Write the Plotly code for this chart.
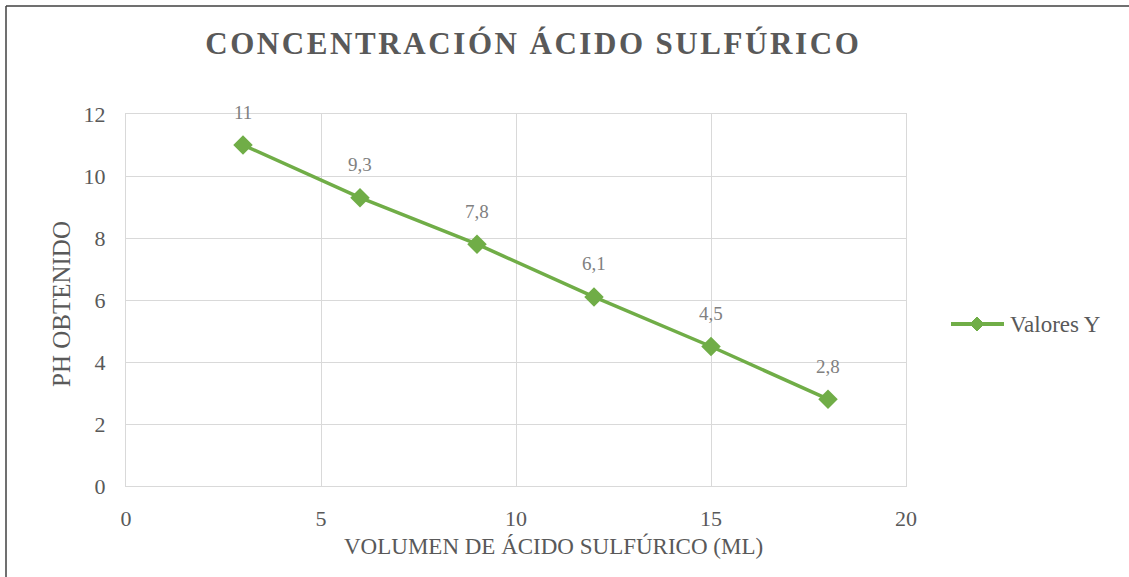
import plotly.graph_objects as go

volumen_ml = [3, 6, 9, 12, 15, 18]
ph_obtenido = [11, 9.3, 7.8, 6.1, 4.5, 2.8]
x_ticks = [0, 5, 10, 15, 20]
y_ticks = [0, 2, 4, 6, 8, 10, 12]
series_name = "Valores Y"

title_text = "CONCENTRACIÓN ÁCIDO SULFÚRICO"
x_title = "VOLUMEN DE ÁCIDO SULFÚRICO (ML)"
y_title = "PH OBTENIDO"
green = "#70ad47"
grid = "#d9d9d9"
txt = "#595959"
font_family = "Liberation Serif, Times New Roman, serif"

# simulate letter spacing for the title
spaced_title = "\u200a".join(list(title_text)).replace("\u200a \u200a", "\u2009\u2009")

W, H = 1129, 577
L, R, T, B = 126, 223, 114, 91
pw, ph = W - L - R, H - T - B

def px_x(p):
    return (p - L) / pw

def px_y(p):
    return (H - B - p) / ph

fig = go.Figure()
fig.add_trace(go.Scatter(
    x=volumen_ml, y=ph_obtenido, mode="lines+markers", name=series_name,
    line=dict(color=green, width=3.5),
    marker=dict(symbol="diamond", size=15, color=green),
    showlegend=False,
))

for xv, yv in zip(volumen_ml, ph_obtenido):
    fig.add_annotation(
        x=xv, y=yv, text=("%g" % yv).replace(".", ","), showarrow=False,
        yshift=33, font=dict(family=font_family, size=19, color="#808080"),
    )

# chart border (left + top)
fig.add_shape(type="line", xref="paper", yref="paper",
              x0=px_x(6), x1=px_x(6), y0=px_y(6), y1=px_y(H + 5),
              line=dict(color="#404040", width=1.5))
fig.add_shape(type="line", xref="paper", yref="paper",
              x0=px_x(6), x1=px_x(W + 5), y0=px_y(6), y1=px_y(6),
              line=dict(color="#404040", width=1.5))

# legend (drawn manually to match the long legend line)
ly = 324
fig.add_shape(type="line", xref="paper", yref="paper",
              x0=px_x(951), x1=px_x(1004), y0=px_y(ly), y1=px_y(ly),
              line=dict(color=green, width=4))
cx, d = 977, 7
fig.add_shape(type="path", xref="paper", yref="paper",
              path="M {a},{b} L {c},{e} L {f},{b} L {c},{g} Z".format(
                  a=px_x(cx - d), b=px_y(ly), c=px_x(cx), e=px_y(ly - d),
                  f=px_x(cx + d), g=px_y(ly + d)),
              fillcolor=green, line=dict(color=green, width=1))
fig.add_annotation(xref="paper", yref="paper", x=px_x(1008), y=px_y(ly),
                   xanchor="left", yanchor="middle", showarrow=False,
                   text=series_name,
                   font=dict(family=font_family, size=23, color=txt))

# x axis title (offset to the right as in the original)
fig.add_annotation(xref="paper", yref="paper", x=px_x(553), y=px_y(546),
                   xanchor="center", yanchor="middle", showarrow=False,
                   text=x_title,
                   font=dict(family=font_family, size=23, color=txt))

# y axis title
fig.add_annotation(xref="paper", yref="paper", x=px_x(61), y=px_y(304),
                   xanchor="center", yanchor="middle", showarrow=False,
                   textangle=-90, text=y_title,
                   font=dict(family=font_family, size=25, color=txt))

fig.update_layout(
    width=W, height=H,
    margin=dict(l=L, r=R, t=T, b=B),
    paper_bgcolor="white", plot_bgcolor="white",
    title=dict(text="<b>" + spaced_title + "</b>", x=532 / W, xanchor="center",
               y=1 - 43 / H, yanchor="middle",
               font=dict(family=font_family, size=31, color=txt)),
    font=dict(family=font_family, color=txt),
    showlegend=False,
    xaxis=dict(range=[0, 20], tickvals=x_ticks, ticktext=[str(v) for v in x_ticks],
               showgrid=True, gridcolor=grid, gridwidth=1,
               showline=True, linecolor=grid, linewidth=1, mirror=True,
               zeroline=False, ticks="outside", ticklen=13, tickcolor="rgba(0,0,0,0)",
               tickfont=dict(family=font_family, size=22, color=txt)),
    yaxis=dict(range=[0, 12], tickvals=y_ticks, ticktext=[str(v) for v in y_ticks],
               showgrid=True, gridcolor=grid, gridwidth=1,
               showline=True, linecolor=grid, linewidth=1, mirror=True,
               zeroline=False, ticks="outside", ticklen=15, tickcolor="rgba(0,0,0,0)",
               tickfont=dict(family=font_family, size=22, color=txt)),
)

fig.write_html("out.html", config={"displayModeBar": False},
               post_script="document.body.style.margin='0px';")
